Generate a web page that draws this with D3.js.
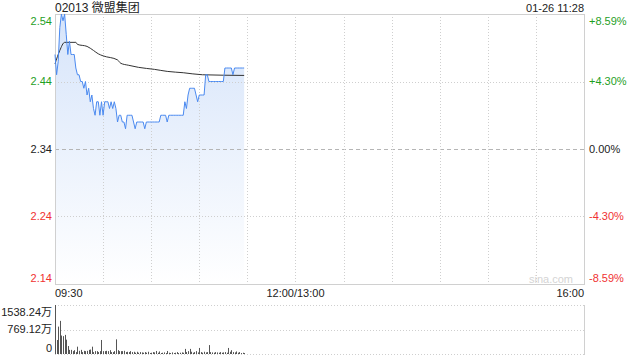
<!DOCTYPE html>
<html>
<head>
<meta charset="utf-8">
<script src="https://cdn.jsdelivr.net/npm/d3@7"></script>
<style>
  html, body { margin: 0; padding: 0; background: #fff; }
  svg text { font-family: Arial, "Liberation Sans", "Noto Sans CJK SC", sans-serif; }
</style>
</head>
<body>
<div id="chart"></div>
<script>
// ---- data ----
var title = '02013 微盟集团';
var stamp = '01-26 11:28';
var prevClose = 2.34;

var priceTicks = [2.54, 2.44, 2.34, 2.24, 2.14];
var pctTicks = ['+8.59%', '+4.30%', '0.00%', '-4.30%', '-8.59%'];
var timeTicks = [{m: 0, label: '09:30'}, {m: 150, label: '12:00/13:00'}, {m: 330, label: '16:00'}];
var volTicks = [{v: 1538.24, label: '1538.24万'}, {v: 769.12, label: '769.12万'}, {v: 0, label: '0'}];

// one value per trading minute from 09:30 to 11:28
var price = [
  2.48, 2.45, 2.47, 2.52, 2.54, 2.53, 2.54, 2.51, 2.48, 2.50,
  2.48, 2.48, 2.48, 2.46, 2.45, 2.45, 2.44, 2.44, 2.43, 2.44,
  2.42, 2.43, 2.41, 2.42, 2.40, 2.39, 2.41, 2.41, 2.39, 2.41,
  2.39, 2.41, 2.41, 2.41, 2.40, 2.41, 2.40, 2.41, 2.40, 2.38,
  2.39, 2.39, 2.38, 2.38, 2.37, 2.39, 2.39, 2.39, 2.39, 2.38,
  2.37, 2.38, 2.38, 2.38, 2.38, 2.38, 2.37, 2.38, 2.38, 2.38,
  2.38, 2.38, 2.38, 2.38, 2.38, 2.38, 2.39, 2.39, 2.39, 2.39,
  2.38, 2.39, 2.39, 2.39, 2.39, 2.39, 2.39, 2.39, 2.39, 2.39,
  2.39, 2.41, 2.40, 2.42, 2.43, 2.43, 2.43, 2.43, 2.42, 2.41,
  2.42, 2.42, 2.42, 2.42, 2.45, 2.45, 2.44, 2.44, 2.44, 2.44,
  2.44, 2.44, 2.44, 2.44, 2.44, 2.44, 2.46, 2.46, 2.46, 2.46,
  2.46, 2.45, 2.46, 2.46, 2.46, 2.46, 2.46, 2.46, 2.46
];

// average price line, read at a few minutes
var avgMinutes = [0, 3, 6, 13, 14, 20, 24, 27, 30, 39, 41, 46, 52, 62, 70, 80, 92, 118];
var avgPrice = [2.466, 2.486, 2.498, 2.498, 2.495, 2.492, 2.486, 2.481, 2.478, 2.472,
                2.467, 2.464, 2.461, 2.458, 2.455, 2.453, 2.450, 2.449];

// volume per minute, in 万
var volume = [
  1538, 440, 860, 1040, 580, 560, 600, 450, 250, 130,
  130, 90, 120, 60, 230, 100, 130, 60, 100, 90,
  100, 130, 140, 230, 60, 90, 90, 60, 90, 440,
  90, 90, 100, 90, 120, 60, 60, 90, 460, 120,
  90, 90, 90, 100, 60, 70, 60, 90, 60, 70,
  40, 70, 40, 60, 50, 40, 60, 40, 70, 30,
  40, 60, 50, 95, 40, 80, 30, 40, 50, 30,
  95, 40, 30, 50, 30, 40, 60, 30, 40, 50,
  40, 160, 60, 90, 160, 70, 40, 60, 90, 50,
  190, 60, 40, 70, 50, 60, 280, 60, 50, 40,
  60, 50, 40, 60, 40, 50, 60, 40, 190, 70,
  120, 60, 50, 80, 40, 60, 30, 40, 30
];

// ---- layout ----
var W = 640, H = 360;
var pLeft = 55, pRight = 584, pTop = 14, pBottom = 284;
var vTop = 305, vBottom = 354;
var green = '#1fa01f', red = '#f03232', grid = '#cfcfcf';

var x = d3.scaleLinear().domain([0, 330]).range([pLeft, pRight]);
var y = d3.scaleLinear().domain([2.14, 2.54]).range([pBottom, pTop]);
var yv = d3.scaleLinear().domain([0, 1538.24]).range([vBottom, vTop]);

var svg = d3.select('#chart').append('svg')
  .attr('width', W).attr('height', H);

var defs = svg.append('defs');
var grad = defs.append('linearGradient')
  .attr('id', 'areaFill')
  .attr('gradientUnits', 'userSpaceOnUse')
  .attr('x1', 0).attr('y1', pTop).attr('x2', 0).attr('y2', pBottom);
grad.append('stop').attr('offset', 0).attr('stop-color', '#d6e4fa');
grad.append('stop').attr('offset', 1).attr('stop-color', '#ffffff');

function labelColor(i) {
  if (i < 2) return green;
  if (i > 2) return red;
  return '#222';
}

// area under price
var area = d3.area()
  .x(function(d, i) { return x(i); })
  .y0(pBottom)
  .y1(function(d) { return y(d); });

svg.append('path')
  .datum(price)
  .attr('d', area)
  .attr('fill', 'url(#areaFill)');

// grid: horizontal
var g = svg.append('g');
g.selectAll('line.h')
  .data(priceTicks.slice(1, 4))
  .enter().append('line')
    .attr('x1', pLeft).attr('x2', pRight)
    .attr('y1', function(d) { return Math.round(y(d)) + 0.5; })
    .attr('y2', function(d) { return Math.round(y(d)) + 0.5; })
    .attr('stroke', function(d) { return d === prevClose ? '#b5b5b5' : grid; })
    .attr('stroke-dasharray', function(d) { return d === prevClose ? '4,3' : '1,2'; });

// grid: vertical every 30 minutes
var vlines = d3.range(30, 330, 30);
g.selectAll('line.v')
  .data(vlines)
  .enter().append('line')
    .attr('x1', function(d) { return Math.round(x(d)) + 0.5; })
    .attr('x2', function(d) { return Math.round(x(d)) + 0.5; })
    .attr('y1', pTop).attr('y2', pBottom)
    .attr('stroke', grid)
    .attr('stroke-dasharray', '1,2');

// main frame
svg.append('rect')
  .attr('x', pLeft + 0.5).attr('y', pTop + 0.5)
  .attr('width', pRight - pLeft).attr('height', pBottom - pTop)
  .attr('fill', 'none').attr('stroke', '#d0d0d0');

// watermark
svg.append('text')
  .attr('x', 573).attr('y', 283)
  .attr('text-anchor', 'end')
  .attr('font-size', 11)
  .attr('fill', '#d4d4d4')
  .text('sina.com');

// average line
var avgLine = d3.line()
  .x(function(d, i) { return x(avgMinutes[i]); })
  .y(function(d) { return y(d); })
  .curve(d3.curveMonotoneX);

svg.append('path')
  .datum(avgPrice)
  .attr('d', avgLine)
  .attr('fill', 'none')
  .attr('stroke', '#333')
  .attr('stroke-width', 1);

// price line
var priceLine = d3.line()
  .x(function(d, i) { return x(i); })
  .y(function(d) { return y(d); });

svg.append('path')
  .datum(price)
  .attr('d', priceLine)
  .attr('fill', 'none')
  .attr('stroke', '#4b8af0')
  .attr('stroke-width', 1);

// left price labels
svg.selectAll('text.pl')
  .data(priceTicks)
  .enter().append('text')
    .attr('x', 52)
    .attr('y', function(d, i) {
      var yy = y(d);
      if (i === 0) yy += 7;
      if (i === priceTicks.length - 1) yy -= 6;
      return yy;
    })
    .attr('dy', '0.35em')
    .attr('text-anchor', 'end')
    .attr('font-size', 11)
    .attr('fill', function(d, i) { return labelColor(i); })
    .text(function(d) { return d.toFixed(2); });

// right percent labels
svg.selectAll('text.pr')
  .data(pctTicks)
  .enter().append('text')
    .attr('x', 589)
    .attr('y', function(d, i) {
      var yy = y(priceTicks[i]);
      if (i === 0) yy += 7;
      if (i === pctTicks.length - 1) yy -= 6;
      return yy;
    })
    .attr('dy', '0.35em')
    .attr('font-size', 11)
    .attr('fill', function(d, i) { return labelColor(i); })
    .text(function(d) { return d; });

// time labels
svg.selectAll('text.t')
  .data(timeTicks)
  .enter().append('text')
    .attr('x', function(d) { return x(d.m); })
    .attr('y', 293)
    .attr('dy', '0.35em')
    .attr('text-anchor', function(d, i) { return i === 0 ? 'start' : (i === 2 ? 'end' : 'middle'); })
    .attr('font-size', 11)
    .attr('fill', '#222')
    .text(function(d) { return d.label; });

// title + timestamp
svg.append('text')
  .attr('x', 55).attr('y', 12)
  .attr('font-size', 12)
  .attr('fill', '#222')
  .text(title);

svg.append('text')
  .attr('x', pRight).attr('y', 12)
  .attr('text-anchor', 'end')
  .attr('font-size', 11)
  .attr('fill', '#222')
  .text(stamp);

// ---- volume panel ----
svg.selectAll('line.vg')
  .data(volTicks)
  .enter().append('line')
    .attr('x1', pLeft).attr('x2', pRight)
    .attr('y1', function(d) { return Math.round(yv(d.v)) + 0.5; })
    .attr('y2', function(d) { return Math.round(yv(d.v)) + 0.5; })
    .attr('stroke', grid)
    .attr('stroke-dasharray', '1,2');

svg.append('line')
  .attr('x1', pRight + 0.5).attr('x2', pRight + 0.5)
  .attr('y1', vTop).attr('y2', vBottom + 1)
  .attr('stroke', '#d0d0d0');

svg.selectAll('rect.vol')
  .data(volume)
  .enter().append('rect')
    .attr('x', function(d, i) { return Math.round(x(i)); })
    .attr('y', function(d) { return yv(d); })
    .attr('width', 1)
    .attr('height', function(d) { return vBottom - yv(d); })
    .attr('fill', '#555');

svg.selectAll('text.vl')
  .data(volTicks)
  .enter().append('text')
    .attr('x', 52)
    .attr('y', function(d, i) {
      var yy = yv(d.v);
      if (i === 0) yy += 7;
      if (i === volTicks.length - 1) yy -= 6;
      return yy;
    })
    .attr('dy', '0.35em')
    .attr('text-anchor', 'end')
    .attr('font-size', 11)
    .attr('fill', '#222')
    .text(function(d) { return d.label; });
</script>
</body>
</html>
